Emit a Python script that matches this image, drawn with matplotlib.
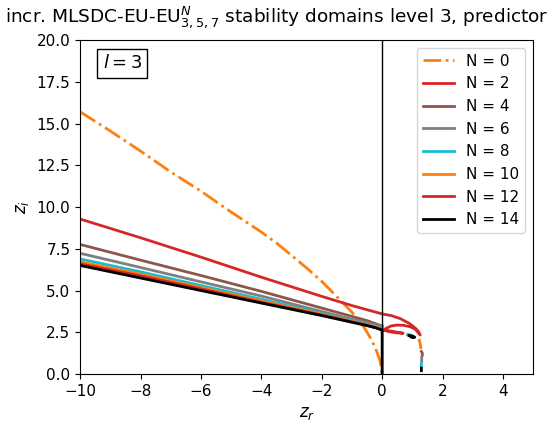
import numpy as np
import matplotlib
matplotlib.use('Agg')
import matplotlib.pyplot as plt

# stability boundary curves, read off as (z_r, z_i) points
# left branch: shared z_r grid
zr_left = [-10, -8, -6, -4, -2, -1, -0.5, -0.2, 0]

zi_n0_x = [-10, -9, -8, -7, -6, -5, -4, -3.5, -3, -2.5, -2, -1.4, -1, -0.8, -0.6, -0.4, -0.23, -0.07, 0]
zi_n0_y = [15.7, 14.55, 13.35, 12.1, 10.95, 9.7, 8.5, 7.85, 7.1, 6.35, 5.55, 4.45, 3.7, 3.3, 2.8, 2.2, 1.6, 0.8, 0.0]
n0_tail_x = [1.22, 1.25, 1.29]
n0_tail_y = [2.1, 1.9, 1.5]

zi_n2 = [9.28, 8.16, 7.0, 5.8, 4.65, 4.1, 3.85, 3.7, 3.6]
n2_loop_x = [0.3, 0.6, 0.9, 1.1, 1.2, 1.26, 1.1, 0.93, 0.7, 0.49, 0.3, 0.15, 0.04]
n2_loop_y = [3.5, 3.32, 3.03, 2.75, 2.55, 2.34, 2.68, 2.83, 2.92, 2.93, 2.88, 2.75, 2.63]

zi_n4 = [7.76, 6.82, 5.9, 4.95, 3.95, 3.45, 3.2, 3.0, 2.88]
n4_tail_x = [1.3, 1.33, 1.33]
n4_tail_y = [1.35, 1.25, 1.12]

zi_n6 = [7.23, 6.38, 5.52, 4.67, 3.74, 3.28, 3.07, 2.95, 2.85]
n6_tail_x = [1.31, 1.31]
n6_tail_y = [1.0, 0.75]

zi_n8 = [6.89, 6.12, 5.3, 4.48, 3.63, 3.2, 2.98, 2.84, 2.74]
n8_blob_x = [0.85, 0.95, 1.05, 0.95, 0.85]
n8_blob_y = [2.36, 2.33, 2.25, 2.22, 2.36]
n8_tail_x = [1.3, 1.3]
n8_tail_y = [0.62, 0.48]

zi_n10 = [6.72, 5.98, 5.18, 4.38, 3.58, 3.16, 2.95, 2.8, 2.7]

zi_n12 = [6.6, 5.88, 5.1, 4.3, 3.54, 3.13, 2.92, 2.77, 2.66]
n12_lobe_x = [0.2, 0.45, 0.7, 0.45, 0.2, 0.04]
n12_lobe_y = [2.55, 2.47, 2.44, 2.52, 2.6, 2.63]

zi_n14 = [6.5, 5.75, 5.0, 4.25, 3.5, 3.1, 2.9, 2.76, 2.63]
n14_down_x = [0, 0]
n14_down_y = [2.63, 0.0]
n14_blob_x = [0.9, 1.0, 1.08, 1.0, 0.9]
n14_blob_y = [2.3, 2.27, 2.2, 2.18, 2.3]
n14_tail_x = [1.3, 1.3]
n14_tail_y = [0.35, 0.2]


def join(*parts):
    # glue polyline pieces together, separated by NaN gaps
    xs, ys = [], []
    for px, py in parts:
        if xs:
            xs.append(np.nan)
            ys.append(np.nan)
        xs.extend(px)
        ys.extend(py)
    return xs, ys


curves = [
    ('N = 0', 'tab:orange', '-.', join((zi_n0_x, zi_n0_y), (n0_tail_x, n0_tail_y))),
    ('N = 2', 'tab:red', '-', join((zr_left + n2_loop_x, zi_n2 + n2_loop_y))),
    ('N = 4', 'tab:brown', '-', join((zr_left, zi_n4), (n4_tail_x, n4_tail_y))),
    ('N = 6', 'tab:gray', '-', join((zr_left, zi_n6), (n6_tail_x, n6_tail_y))),
    ('N = 8', 'tab:cyan', '-', join((zr_left, zi_n8), (n8_blob_x, n8_blob_y), (n8_tail_x, n8_tail_y))),
    ('N = 10', 'tab:orange', '-', join((zr_left, zi_n10))),
    ('N = 12', 'tab:red', '-', join((zr_left + n12_lobe_x, zi_n12 + n12_lobe_y))),
    ('N = 14', 'black', '-', join((zr_left + n14_down_x, zi_n14 + n14_down_y),
                                  (n14_blob_x, n14_blob_y), (n14_tail_x, n14_tail_y))),
]

fig = plt.figure(figsize=(5.53, 4.26), dpi=100)
ax = fig.add_axes([0.145, 0.122, 0.819, 0.784])

for label, color, ls, (xs, ys) in curves:
    ax.plot(xs, ys, color=color, linestyle=ls, linewidth=2, label=label)

ax.axvline(0, color='black', linewidth=1)

ax.set_xlim(-10, 5)
ax.set_ylim(0, 20)
ax.set_xlabel('$z_r$', fontsize=12)
ax.set_ylabel('$z_i$', fontsize=12)
ax.tick_params(labelsize=11)
fig.suptitle(r'incr. MLSDC-EU-EU$^N_{3,5,7}$ stability domains level 3, predictor',
             fontsize=13.3, y=0.99, va='top')

ax.text(0.05, 0.93, '$l = 3$', transform=ax.transAxes, fontsize=13, va='center',
        bbox=dict(facecolor='white', edgecolor='black', boxstyle='square,pad=0.3'))

ax.legend(loc='upper right', fontsize=11)

plt.savefig('out.png', dpi=100)
